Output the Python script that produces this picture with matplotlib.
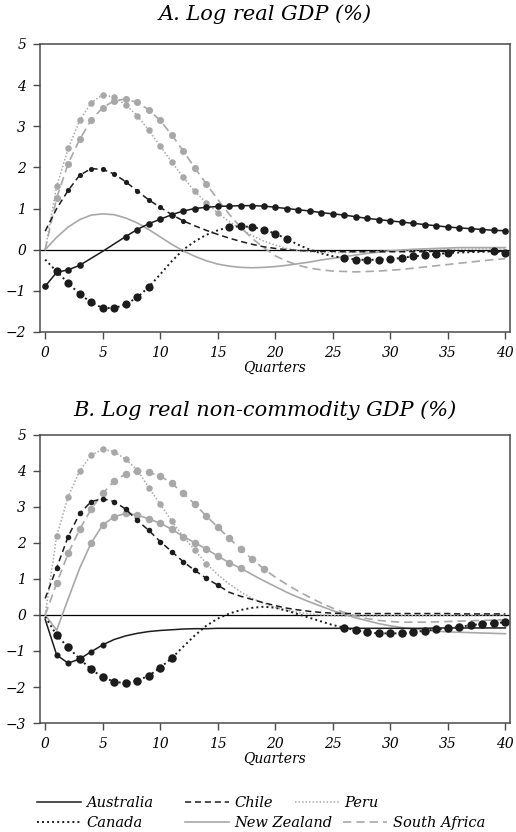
import numpy as np
import matplotlib.pyplot as plt
from matplotlib.lines import Line2D

plt.rcParams['font.family'] = 'DejaVu Serif'
plt.rcParams['font.style'] = 'italic'

quarters = np.arange(41)

# Panel A: log real GDP (%)
aus_a = [-0.89, -0.55, -0.49, -0.38, -0.21, -0.04, 0.14, 0.32, 0.49, 0.63, 0.74,
         0.85, 0.94, 1.00, 1.03, 1.05, 1.06, 1.07, 1.07, 1.06, 1.03, 1.00, 0.97,
         0.94, 0.90, 0.87, 0.84, 0.80, 0.76, 0.73, 0.70, 0.67, 0.64, 0.61, 0.58,
         0.55, 0.53, 0.51, 0.49, 0.47, 0.46]
can_a = [-0.24, -0.53, -0.81, -1.08, -1.28, -1.42, -1.42, -1.33, -1.16, -0.91, -0.60,
         -0.28, 0.00, 0.20, 0.36, 0.47, 0.55, 0.57, 0.55, 0.49, 0.39, 0.26, 0.12,
         0.00, -0.09, -0.16, -0.20, -0.24, -0.25, -0.24, -0.23, -0.20, -0.16, -0.14,
         -0.11, -0.08, -0.07, -0.06, -0.05, -0.04, -0.07]
chl_a = [0.45, 1.00, 1.44, 1.81, 1.97, 1.95, 1.84, 1.65, 1.43, 1.21, 1.03, 0.85,
         0.70, 0.58, 0.47, 0.37, 0.28, 0.20, 0.13, 0.07, 0.03, 0.00, -0.02, -0.03,
         -0.04, -0.04, -0.05, -0.05, -0.05, -0.05, -0.05, -0.05, -0.05, -0.05,
         -0.04, -0.04, -0.04, -0.04, -0.04, -0.04, -0.04]
nzl_a = [0.00, 0.30, 0.55, 0.73, 0.84, 0.87, 0.85, 0.77, 0.65, 0.49, 0.31, 0.13,
         -0.03, -0.16, -0.27, -0.35, -0.40, -0.43, -0.44, -0.43, -0.41, -0.38,
         -0.34, -0.30, -0.25, -0.21, -0.17, -0.13, -0.09, -0.06, -0.03, -0.01,
         0.01, 0.02, 0.03, 0.04, 0.05, 0.05, 0.05, 0.05, 0.05]
per_a = [0.00, 1.54, 2.46, 3.14, 3.57, 3.77, 3.70, 3.52, 3.26, 2.90, 2.52, 2.13,
         1.76, 1.42, 1.14, 0.89, 0.68, 0.50, 0.34, 0.21, 0.11, 0.03, -0.02, -0.05,
         -0.07, -0.07, -0.07, -0.06, -0.05, -0.04, -0.03, -0.02, -0.01, 0.00, 0.00,
         0.01, 0.01, 0.01, 0.02, 0.02, 0.02]
zaf_a = [0.00, 1.26, 2.09, 2.68, 3.15, 3.45, 3.62, 3.66, 3.58, 3.40, 3.14, 2.79,
         2.40, 1.99, 1.60, 1.22, 0.86, 0.54, 0.27, 0.05, -0.15, -0.28, -0.38,
         -0.45, -0.49, -0.52, -0.53, -0.54, -0.53, -0.52, -0.50, -0.48, -0.45,
         -0.42, -0.39, -0.36, -0.33, -0.30, -0.27, -0.24, -0.22]

# Panel B: log real non-commodity GDP (%)
aus_b = [-0.12, -1.11, -1.34, -1.22, -1.02, -0.83, -0.68, -0.58, -0.51, -0.46, -0.43,
         -0.41, -0.39, -0.38, -0.38, -0.37, -0.37, -0.37, -0.37, -0.37, -0.37,
         -0.37, -0.37, -0.37, -0.37, -0.37, -0.37, -0.37, -0.37, -0.37, -0.37,
         -0.37, -0.37, -0.37, -0.36, -0.36, -0.36, -0.36, -0.36, -0.36, -0.36]
can_b = [-0.05, -0.56, -0.90, -1.22, -1.51, -1.73, -1.85, -1.90, -1.82, -1.69, -1.46,
         -1.20, -0.88, -0.57, -0.30, -0.10, 0.04, 0.14, 0.20, 0.23, 0.20, 0.12, 0.02,
         -0.08, -0.18, -0.28, -0.35, -0.43, -0.48, -0.51, -0.51, -0.51, -0.47,
         -0.44, -0.40, -0.37, -0.33, -0.28, -0.25, -0.23, -0.20]
chl_b = [0.46, 1.31, 2.18, 2.82, 3.15, 3.23, 3.15, 2.94, 2.63, 2.35, 2.04, 1.76,
         1.48, 1.24, 1.02, 0.83, 0.63, 0.52, 0.43, 0.34, 0.26, 0.19, 0.14, 0.10,
         0.07, 0.05, 0.04, 0.04, 0.04, 0.04, 0.04, 0.04, 0.04, 0.04, 0.04, 0.04,
         0.03, 0.03, 0.03, 0.03, 0.03]
nzl_b = [0.00, -0.42, 0.45, 1.30, 2.00, 2.50, 2.73, 2.82, 2.78, 2.67, 2.55, 2.38,
         2.18, 2.01, 1.83, 1.64, 1.45, 1.30, 1.12, 0.95, 0.79, 0.63, 0.49, 0.36,
         0.24, 0.12, 0.02, -0.08, -0.16, -0.24, -0.30, -0.35, -0.39, -0.42, -0.45,
         -0.47, -0.48, -0.49, -0.50, -0.51, -0.52]
per_b = [0.00, 2.19, 3.29, 4.00, 4.44, 4.60, 4.54, 4.32, 4.03, 3.54, 3.08, 2.61,
         2.18, 1.80, 1.43, 1.12, 0.86, 0.64, 0.46, 0.32, 0.21, 0.13, 0.07, 0.03,
         0.00, -0.02, -0.03, -0.03, -0.03, -0.03, -0.02, -0.02, -0.02, -0.02,
         -0.01, -0.01, -0.01, -0.01, 0.00, 0.00, 0.00]
zaf_b = [0.00, 0.88, 1.71, 2.38, 2.94, 3.38, 3.72, 3.92, 4.00, 3.96, 3.86, 3.66,
         3.38, 3.08, 2.75, 2.44, 2.13, 1.82, 1.55, 1.28, 1.05, 0.85, 0.66, 0.49,
         0.33, 0.19, 0.07, -0.03, -0.10, -0.15, -0.18, -0.20, -0.20, -0.20, -0.19,
         -0.18, -0.17, -0.16, -0.15, -0.14, -0.13]

# quarters where the response carries a dot
aus_a_dots = [0, 1, 2, 3] + list(range(7, 41))
can_a_dots = list(range(1, 10)) + list(range(16, 22)) + list(range(26, 36)) + [39, 40]
chl_a_dots = list(range(2, 13))
nzl_a_dots = []
per_a_dots = list(range(1, 16))
zaf_a_dots = list(range(1, 15))

aus_b_dots = list(range(1, 6))
can_b_dots = list(range(1, 12)) + list(range(26, 41))
chl_b_dots = list(range(1, 16))
nzl_b_dots = list(range(4, 18))
per_b_dots = list(range(1, 15))
zaf_b_dots = list(range(1, 20))

BLACK = '#1c1c1c'
GREY = '#a8a8a8'
AXIS = '#4a4a4a'

styles = {
    'Australia': dict(color=BLACK, ls='-', lw=1.1),
    'Canada': dict(color=BLACK, ls=(0, (1, 1.6)), lw=1.4),
    'Chile': dict(color=BLACK, ls=(0, (4, 2.5)), lw=1.1),
    'New Zealand': dict(color=GREY, ls='-', lw=1.2),
    'Peru': dict(color=GREY, ls=(0, (1, 1.3)), lw=1.1),
    'South Africa': dict(color=GREY, ls=(0, (5, 3)), lw=1.2),
}
draw_order = ['New Zealand', 'South Africa', 'Peru', 'Chile', 'Canada', 'Australia']


def draw_panel(ax, series, ylim):
    ax.axhline(0, color='black', lw=0.9, zorder=1)
    for name in draw_order:
        values, dots, ms = series[name]
        st = styles[name]
        ax.plot(quarters, values, color=st['color'], ls=st['ls'], lw=st['lw'],
                marker='o' if dots else '', markevery=dots if dots else None,
                ms=ms, mec='none', mfc=st['color'], zorder=2)
    ax.set_xlim(-0.45, 40.4)
    ax.set_ylim(*ylim)
    ax.set_xticks(range(0, 41, 5))
    ax.set_yticks(range(ylim[0], ylim[1] + 1))
    ax.tick_params(direction='out', length=5, width=1, color=AXIS,
                   labelsize=10, pad=5)
    for sp in ax.spines.values():
        sp.set_color(AXIS)
        sp.set_linewidth(1.1)
    ax.set_xlabel('Quarters', fontsize=10, labelpad=1)


fig = plt.figure(figsize=(5.16, 8.32), dpi=100)
ax_a = fig.add_axes([0.0775, 0.601, 0.9109, 0.3462])
ax_b = fig.add_axes([0.0775, 0.131, 0.9109, 0.3462])

draw_panel(ax_a, {
    'Australia': (aus_a, aus_a_dots, 4.8),
    'Canada': (can_a, can_a_dots, 5.9),
    'Chile': (chl_a, chl_a_dots, 3.7),
    'New Zealand': (nzl_a, nzl_a_dots, 0),
    'Peru': (per_a, per_a_dots, 4.7),
    'South Africa': (zaf_a, zaf_a_dots, 5.1),
}, (-2, 5))

draw_panel(ax_b, {
    'Australia': (aus_b, aus_b_dots, 4.4),
    'Canada': (can_b, can_b_dots, 6.1),
    'Chile': (chl_b, chl_b_dots, 4.0),
    'New Zealand': (nzl_b, nzl_b_dots, 5.4),
    'Peru': (per_b, per_b_dots, 4.7),
    'South Africa': (zaf_b, zaf_b_dots, 5.4),
}, (-3, 5))

fig.text(265 / 516, 1 - 20 / 832, 'A. Log real GDP (%)', ha='center', va='baseline',
         fontsize=15)
fig.text(265 / 516, 1 - 416 / 832, 'B. Log real non-commodity GDP (%)', ha='center',
         va='baseline', fontsize=15)

# legend entries placed like a two-row key under the panels
legend_slots = [('Australia', 37, 803), ('Chile', 185, 803), ('Peru', 295, 803),
                ('Canada', 37, 823), ('New Zealand', 185, 823), ('South Africa', 343, 823)]
for name, x, y in legend_slots:
    st = styles[name]
    handle = Line2D([], [], color=st['color'], ls=st['ls'], lw=st['lw'])
    fig.legend([handle], [name], loc='center left', bbox_to_anchor=(x / 516, 1 - y / 832),
               frameon=False, fontsize=10.5, handlelength=3.0, handletextpad=0.4,
               borderpad=0, borderaxespad=0)

fig.savefig('out.png', dpi=100)
